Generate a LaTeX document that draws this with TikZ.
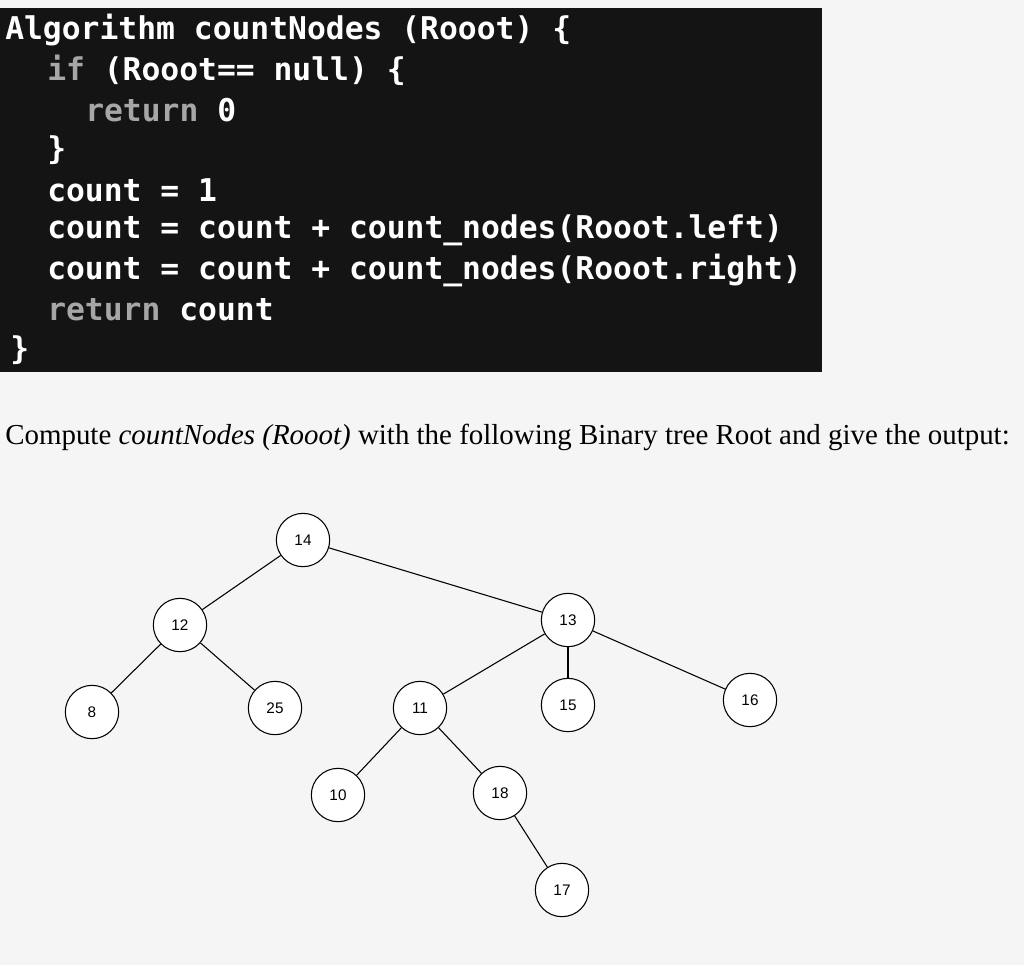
\documentclass[tikz,border=0pt]{standalone}
\usepackage{fontspec}
\setmainfont{Liberation Serif}
\newfontfamily\codefont{DejaVu Sans Mono}
\newfontfamily\nodefont{Liberation Sans}
\begin{document}
\begin{tikzpicture}[x=0.75pt,y=-0.75pt,
  code/.style={anchor=west,inner sep=0pt,text=white,font=\codefont\bfseries\fontsize{23.5}{27}\selectfont},
  kw/.style={code,text=gray!70},
  tn/.style={circle,draw,thick,minimum size=40pt,inner sep=0pt,fill=white,font=\nodefont\fontsize{11.5}{13}\selectfont},
  edge/.style={thick}]
\fill[gray!8] (0,0) rectangle (1024,965);
\fill[black!92] (0,8) rectangle (822,372);
\node[code] (l1) at (5,30) {Algorithm countNodes (Rooot) \{};
\node[code] (l2) at (47,70) {\textcolor{gray!70}{if} (Rooot== null) \{};
\node[kw] (l3) at (85,110) {return \textcolor{white}{0}};
\node[code] (l4) at (47,150) {\}};
\node[code] (l5) at (47,190) {count = 1};
\node[code] (l6) at (47,230) {count = count + count\_nodes(Rooot.left)};
\node[code] (l7) at (47,270) {count = count + count\_nodes(Rooot.right)};
\node[kw] (l8) at (47,310) {return \textcolor{white}{count}};
\node[code] (l9) at (10,350) {\}};
\node[anchor=west,inner sep=0pt,font=\fontsize{21.7}{25}\selectfont] (q) at (5,437) {Compute \textit{countNodes (Rooot)} with the following Binary tree Root and give the output:};
\node[tn] (n14) at (303,540) {14};
\node[tn] (n12) at (180,625) {12};
\node[tn] (n13) at (568,620) {13};
\node[tn] (n8) at (92,712) {8};
\node[tn] (n25) at (275,708) {25};
\node[tn] (n11) at (420,708) {11};
\node[tn] (n15) at (568,705) {15};
\node[tn] (n16) at (750,700) {16};
\node[tn] (n10) at (338,795) {10};
\node[tn] (n18) at (500,793) {18};
\node[tn] (n17) at (562,890) {17};
\foreach \a/\b in {n14/n12,n14/n13,n12/n8,n12/n25,n13/n11,n13/n15,n13/n16,n11/n10,n11/n18,n18/n17}
  \draw[edge] (\a) -- (\b);
\end{tikzpicture}
\end{document}
